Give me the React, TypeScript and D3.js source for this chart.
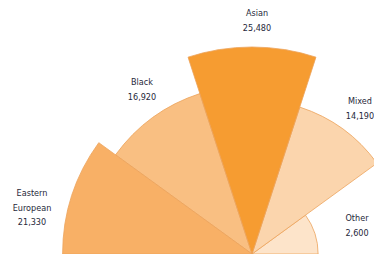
import React from "react";
import * as d3 from "d3";

const categories = ["Eastern European", "Black", "Asian", "Mixed", "Other"];
const values = [21330, 16920, 25480, 14190, 2600];
const valueLabels = ["21,330", "16,920", "25,480", "14,190", "2,600"];
const colors = ["#f8b066", "#f9bf82", "#f69c31", "#fbd5ad", "#fde4ca"];

const W = 374;
const H = 254;
const cx = 252;
const cy = 254;

export default function App() {
  const r = d3.scaleSqrt().domain([0, d3.max(values) as number]).range([0, 207]);
  const angle = d3
    .scaleBand<string>()
    .domain(categories)
    .range([-Math.PI / 2, Math.PI / 2]);
  const arc = d3.arc<any>();

  const labelPos: { x: number; y: number; lines: string[] }[] = [
    { x: 32, y: 193, lines: ["Eastern", "European", valueLabels[0]] },
    { x: 142, y: 82, lines: ["Black", valueLabels[1]] },
    { x: 257, y: 13, lines: ["Asian", valueLabels[2]] },
    { x: 360, y: 101, lines: ["Mixed", valueLabels[3]] },
    { x: 357, y: 218, lines: ["Other", valueLabels[4]] },
  ];

  const order = [4, 3, 1, 0, 2];

  return (
    <svg
      width={W}
      height={H}
      style={{ position: "absolute", left: 0, top: 0, background: "#fff" }}
    >
      <g transform={`translate(${cx},${cy})`}>
        {order.map((i) => {
          const a0 = angle(categories[i]) as number;
          const a1 = a0 + angle.bandwidth();
          return (
            <path
              key={categories[i]}
              d={arc({ innerRadius: 0, outerRadius: r(values[i]), startAngle: a0, endAngle: a1 }) as string}
              fill={colors[i]}
              stroke="#eca35c"
              strokeWidth={0.8}
              strokeLinejoin="round"
            />
          );
        })}
      </g>
      {labelPos.map((l, i) => (
        <text
          key={i}
          x={l.x}
          y={l.y}
          textAnchor="middle"
          fontFamily="'Liberation Sans Narrow', 'DejaVu Sans Condensed', 'Arial Narrow', sans-serif"
          fontSize={9}
          fill="#26283a"
          dominantBaseline="middle"
        >
          {l.lines.map((t, j) => (
            <tspan key={j} x={l.x} dy={j === 0 ? 0 : 14.5}>
              {t}
            </tspan>
          ))}
        </text>
      ))}
    </svg>
  );
}
